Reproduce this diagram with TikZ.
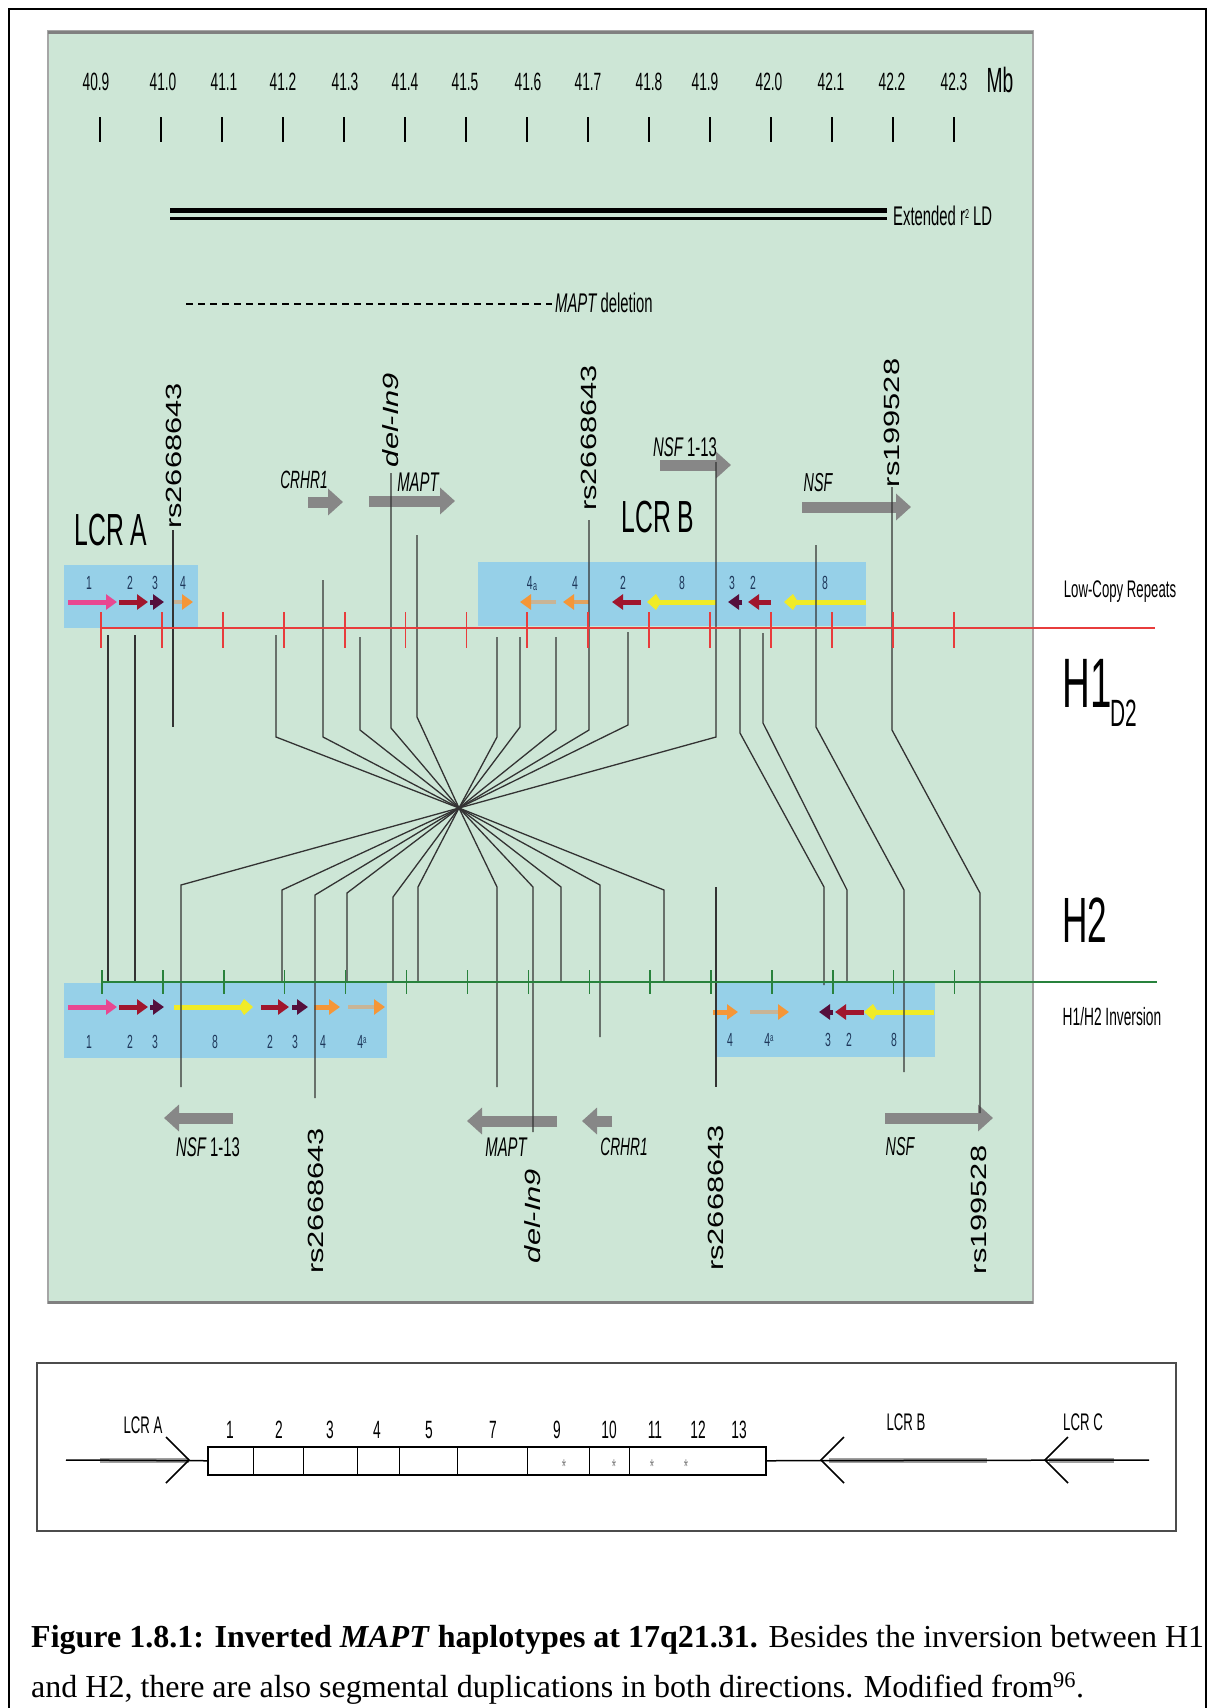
\documentclass[tikz,border=0pt]{standalone}
\usepackage{fontspec}
\setmainfont{Liberation Serif}
\newfontfamily\nar[FakeStretch=0.55]{Liberation Sans}
\newfontfamily\wid[FakeStretch=1.4]{Liberation Sans}
\usetikzlibrary{arrows.meta}
\definecolor{panelgreen}{RGB}{205,230,214}
\definecolor{lcrblue}{RGB}{150,208,232}
\definecolor{h1red}{RGB}{232,60,60}
\definecolor{h2green}{RGB}{40,130,60}
\definecolor{apink}{RGB}{232,72,145}
\definecolor{ared}{RGB}{160,22,45}
\definecolor{apurple}{RGB}{85,15,60}
\definecolor{aorange}{RGB}{245,150,55}
\definecolor{ayellow}{RGB}{240,235,40}
\definecolor{abeige}{RGB}{200,180,150}
\definecolor{navy}{RGB}{30,55,90}
\definecolor{genegray}{RGB}{135,135,135}
\newcommand\fs[1]{\fontsize{#1}{#1}\selectfont}
\newcommand\seg[4]{\draw[segarrow,#1] (#2,#4) -- (#3,#4);}
\newcommand\yseg[3]{\draw[line width=5pt,ayellow,-{Kite[length=14pt,width=16pt,inset=5pt]}] (#1,#3) -- (#2,#3);}
\newcommand\fouraseg[3]{\draw[line width=4pt,abeige,-{Triangle[length=11pt,width=15pt,color=aorange]}] (#1,#3) -- (#2,#3);}
\begin{document}
\begin{tikzpicture}[x=1pt,y=-1pt,
  lbl/.style={inner sep=0pt,font=\nar\fs{25}},
  rot/.style={inner sep=0pt,rotate=90,font=\wid\fs{22}},
  conn/.style={line width=1.3pt,draw=black!80},
  gene/.style={line width=11pt,genegray,-{Triangle[length=15pt,width=26pt]}},
  segarrow/.style={line width=5pt,-{Triangle[length=11pt,width=15pt]}},
  num/.style={inner sep=0pt,font=\nar\fs{19},text=navy}]
\useasboundingbox (0,0) rectangle (1209,1708);
\fill[white] (0,0) rectangle (1209,1708);
% outer frame
\draw[line width=2pt] (9,1708) -- (9,9) -- (1206,9) -- (1206,1708);
% green panel
\fill[panelgreen] (48,31) rectangle (1033,1303);
\draw[gray!70,line width=1.2pt] (48,31) rectangle (1033,1303);
\draw[gray,line width=3pt] (48,32) -- (1033,32);
\draw[gray,line width=3pt] (48,1302) -- (1033,1302);
% scale
\foreach \lx/\lt [count=\i] in {96/40.9,163/41.0,224/41.1,283/41.2,345/41.3,405/41.4,465/41.5,528/41.6,588/41.7,649/41.8,705/41.9,769/42.0,831/42.1,892/42.2,954/42.3}
  \node[lbl] (mb\i) at (\lx,82) {\lt};
\node[lbl,font=\nar\fs{35}] (mb) at (1000,80) {Mb};
\foreach \i in {0,...,14} \draw[line width=1.5pt] ({100+61*\i},117) -- ({100+61*\i},142);
% extended LD
\draw[line width=4.5pt] (170,210.5) -- (887,210.5);
\draw[line width=3pt] (170,218.5) -- (887,218.5);
\node[lbl,anchor=west,font=\nar\fs{27}] (ld) at (893,216) {Extended r\raisebox{7pt}{\fs{13}2} LD};
% MAPT deletion
\draw[line width=2.5pt,dash pattern=on 7pt off 5pt] (186,304) -- (552,304);
\node[lbl,anchor=west,font=\nar\fs{27}] (del) at (555,303) {\itshape MAPT\upshape\ deletion};
% blue LCR boxes
\fill[lcrblue] (64,565) rectangle (198,628);
\fill[lcrblue] (478,562) rectangle (866,626);
\fill[lcrblue] (64,983) rectangle (387,1058);
\fill[lcrblue] (716,983) rectangle (935,1057);
% gene arrows
\draw[gene] (308,502) -- (343,502);
\draw[gene] (369,501) -- (455,501);
\draw[gene] (660,465) -- (731,465);
\draw[gene] (802,507) -- (911,507);
\draw[gene] (233,1118) -- (164,1118);
\draw[gene] (557,1121) -- (467,1121);
\draw[gene] (612,1121) -- (582,1121);
\draw[gene] (885,1118) -- (993,1118);
% coloured segments, top
\seg{apink}{68}{117}{602}
\seg{ared}{119}{148}{602}
\seg{apurple}{150}{164}{602}
\fouraseg{172}{193}{602}
\fouraseg{556}{520}{602}
\draw[line width=4pt,aorange!60!abeige,-{Triangle[length=11pt,width=15pt,color=aorange]}] (589,602) -- (563,602);
\seg{ared}{641}{612}{602}
\yseg{716}{647}{602}
\seg{apurple}{742}{728}{602}
\seg{ared}{771}{748}{602}
\yseg{866}{784}{602}
% coloured segments, bottom
\seg{apink}{68}{117}{1007}
\seg{ared}{119}{148}{1007}
\seg{apurple}{150}{164}{1007}
\yseg{174}{253}{1007}
\seg{ared}{261}{289}{1007}
\seg{apurple}{292}{308}{1007}
\seg{aorange}{314}{340}{1007}
\fouraseg{348}{385}{1007}
\seg{aorange}{713}{738}{1012}
\fouraseg{750}{789}{1012}
\seg{apurple}{833}{819}{1012}
\seg{ared}{864}{835}{1012}
\yseg{934}{864}{1012}
% numbers in LCR boxes
\foreach \nx/\nt [count=\i] in {89/1,130/2,155/3,183/4,575/4,623/2,682/8,732/3,753/2,825/8}
  \node[num] (tn\i) at (\nx,583) {\nt};
\node[num] (tn4a) at (532,584) {4\kern0.5pt\raisebox{-1pt}{\fs{13}a}};
\foreach \nx/\nt [count=\i] in {89/1,130/2,155/3,215/8,270/2,295/3,323/4}
  \node[num] (bn\i) at (\nx,1042) {\nt};
\node[num] (bn4a) at (362,1042) {4\raisebox{5pt}{\fs{11}a}};
\foreach \nx/\nt [count=\i] in {730/4,828/3,849/2,894/8}
  \node[num] (rn\i) at (\nx,1040) {\nt};
\node[num] (rn4a) at (769,1040) {4\raisebox{5pt}{\fs{11}a}};
% connectors through the inversion point
\coordinate (C) at (459,808);
\foreach \tx/\ts/\tb/\bx/\bb/\be in {276/635/737/664/890/982, 323/580/737/600/885/1037, 360/637/730/561/887/982, 391/473/728/533/887/1132, 417/535/717/497/887/1087, 497/637/737/418/887/982, 520/637/727/393/897/982, 556/637/730/347/893/982, 589/520/730/315/895/1098, 628/632/725/282/890/982, 716/462/737/181/885/1087}
  \draw[conn] (\tx,\ts) -- (\tx,\tb) -- (C) -- (\bx,\bb) -- (\bx,\be);
\foreach \tx/\ts/\tb/\bx/\bb/\be in {740/628/733/824/887/985, 763/633/723/847/890/982, 816/545/727/904/890/1072, 892/487/730/980/893/1113}
  \draw[conn] (\tx,\ts) -- (\tx,\tb) -- (\bx,\bb) -- (\bx,\be);
\draw[conn] (108,635) -- (108,982);
\draw[conn] (135,635) -- (135,982);
\draw[conn] (173,530) -- (173,727);
\draw[conn] (716,887) -- (716,1087);
% H1 and H2 lines
\draw[h1red,line width=2.5pt] (101,628) -- (1155,628);
\foreach \i in {0,...,14} \draw[h1red,line width=1.8pt] ({101+60.9*\i},612) -- ({101+60.9*\i},648);
\draw[h2green,line width=2.5pt] (101,982) -- (1157,982);
\foreach \i in {0,...,14} \draw[h2green,line width=1.4pt] ({102+60.9*\i},970) -- ({102+60.9*\i},994);
% labels
\node[lbl] (crhr1t) at (304,480) {\itshape CRHR1};
\node[lbl,font=\nar\fs{27}] (maptt) at (418,482) {\itshape MAPT};
\node[lbl,font=\nar\fs{45}] (lcra) at (111,530) {LCR A};
\node[lbl,font=\nar\fs{45}] (lcrb) at (658,517) {LCR B};
\node[lbl,font=\nar\fs{27}] (nsf13t) at (685,447) {\itshape NSF\upshape\ 1-13};
\node[lbl,font=\nar\fs{26}] (nsft) at (818,483) {\itshape NSF};
\node[lbl,font=\nar\fs{24}] (lcr) at (1120,592) {Low-Copy Repeats};
\node[lbl,anchor=west,font=\nar\fs{70}] (h1) at (1062,683) {H1};
\node[lbl,anchor=west,font=\nar\fs{38}] (d2) at (1110,713) {D2};
\node[lbl,anchor=west,font=\nar\fs{64}] (h2) at (1062,920) {H2};
\node[lbl,font=\nar\fs{25}] (inv) at (1112,1017) {H1/H2 Inversion};
\node[lbl,font=\nar\fs{27}] (nsf13b) at (208,1147) {\itshape NSF\upshape\ 1-13};
\node[lbl,font=\nar\fs{27}] (maptb) at (506,1147) {\itshape MAPT};
\node[lbl] (crhr1b) at (624,1147) {\itshape CRHR1};
\node[lbl,font=\nar\fs{26}] (nsfb) at (900,1147) {\itshape NSF};
% rotated marker labels
\node[rot] (rs1) at (174,456) {rs2668643};
\node[rot] (di1) at (391,420) {\itshape del-In9};
\node[rot] (rs2) at (589,438) {rs2668643};
\node[rot] (rs3) at (892,423) {rs199528};
\node[rot] (rs4) at (316,1201) {rs2668643};
\node[rot] (di2) at (533,1216) {\itshape del-In9};
\node[rot] (rs5) at (716,1198) {rs2668643};
\node[rot] (rs6) at (979,1210) {rs199528};
% lower panel
\draw[gray!60!black,line width=1.2pt] (37,1363) rectangle (1176,1531);
\draw[gray!60!black,line width=2.5pt] (37,1363) -- (1176,1363);
\draw[gray!60!black,line width=2.5pt] (37,1531) -- (1176,1531);
\draw[line width=5pt,gray!75] (100,1460) -- (189,1460);
\draw[line width=5pt,gray!75] (829,1460) -- (987,1460);
\draw[line width=5pt,gray!75] (1049,1460) -- (1114,1460);
\node[draw,line width=1.5pt,fill=white,minimum width=558pt,minimum height=28pt,inner sep=0pt,anchor=north west] (exons) at (207,1446) {};
\draw[line width=1.5pt] (66,1460) -- (exons.west);
\draw[line width=1.5pt] (exons.east) -- (1149,1460);
\foreach \x in {253,303,357,399,457,527,589,629} \draw[line width=1pt] (\x,1446) -- (\x,1474);
\draw[line width=1.6pt] (166,1437) -- (189,1460) -- (166,1483);
\draw[line width=1.6pt] (844,1437) -- (821,1460) -- (844,1483);
\draw[line width=1.6pt] (1068,1437) -- (1045,1460) -- (1068,1483);
\foreach \nx/\nt [count=\i] in {230/1,279/2,330/3,377/4,429/5,493/7,557/9,609/10,655/11,698/12,739/13}
  \node[lbl,font=\nar\fs{25}] (ex\i) at (\nx,1430) {\nt};
\foreach \ax [count=\i] in {564,614,652,686}
  \node[inner sep=0pt,text=gray,font=\nar\fs{20}] (ast\i) at (\ax,1467) {*};
\node[lbl,font=\nar\fs{24}] (la) at (143,1425) {LCR A};
\node[lbl,font=\nar\fs{24}] (lb) at (906,1422) {LCR B};
\node[lbl,font=\nar\fs{24}] (lc) at (1083,1422) {LCR C};
% caption
\node[anchor=base west,inner sep=0pt,font=\fs{32}] (cap1) at (31,1647) {\makebox[1173pt][s]{\textbf{Figure 1.8.1: Inverted \textit{MAPT} haplotypes at 17q21.31.} Besides the inversion between H1}};
\node[anchor=base west,inner sep=0pt,font=\fs{32}] (cap2) at (31,1697) {and H2, there are also segmental duplications in both directions. Modified from\textsuperscript{96}.};
\end{tikzpicture}
\end{document}
